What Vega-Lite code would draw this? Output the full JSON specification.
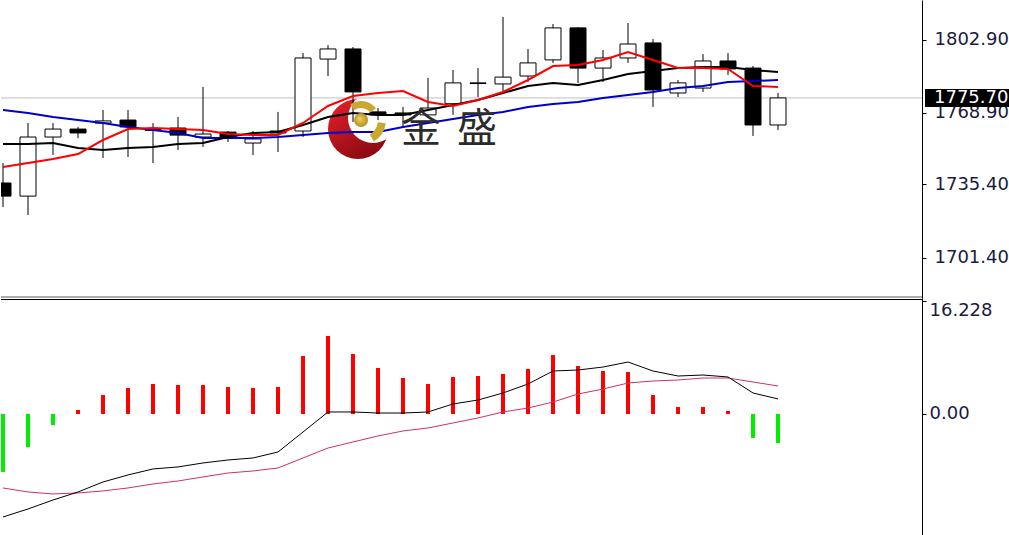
{
  "$schema": "https://vega.github.io/schema/vega-lite/v6.json",
  "padding": 0,
  "background": "white",
  "spacing": 0,
  "config": {"view": {"stroke": null}, "axis": {"labelFont": "DejaVu Sans"}},
  "resolve": {"scale": {"x": "independent", "y": "independent"}},
  "datasets": {
    "candles": [
      {"i": 0, "o": 1736.1, "h": 1745.4, "l": 1724.9, "c": 1730.0},
      {"i": 1, "o": 1730.0, "h": 1764.0, "l": 1721.2, "c": 1757.5},
      {"i": 2, "o": 1757.5, "h": 1764.0, "l": 1749.1, "c": 1761.2},
      {"i": 3, "o": 1761.2, "h": 1762.2, "l": 1757.0, "c": 1759.4},
      {"i": 4, "o": 1764.0, "h": 1770.1, "l": 1747.7, "c": 1765.0},
      {"i": 5, "o": 1765.4, "h": 1770.1, "l": 1748.2, "c": 1762.2},
      {"i": 6, "o": 1761.0, "h": 1764.0, "l": 1745.4, "c": 1760.6},
      {"i": 7, "o": 1761.7, "h": 1766.8, "l": 1751.5, "c": 1758.4},
      {"i": 8, "o": 1757.5, "h": 1780.8, "l": 1752.9, "c": 1758.9},
      {"i": 9, "o": 1759.8, "h": 1760.3, "l": 1755.2, "c": 1757.5},
      {"i": 10, "o": 1754.7, "h": 1760.3, "l": 1749.1, "c": 1756.6},
      {"i": 11, "o": 1760.3, "h": 1769.2, "l": 1750.5, "c": 1759.4},
      {"i": 12, "o": 1760.3, "h": 1796.6, "l": 1757.5, "c": 1794.3},
      {"i": 13, "o": 1793.8, "h": 1800.3, "l": 1785.9, "c": 1798.5},
      {"i": 14, "o": 1798.5, "h": 1799.4, "l": 1764.5, "c": 1778.5},
      {"i": 15, "o": 1769.2, "h": 1771.0, "l": 1765.4, "c": 1767.8},
      {"i": 16, "o": 1768.7, "h": 1771.5, "l": 1761.7, "c": 1767.8},
      {"i": 17, "o": 1767.8, "h": 1785.0, "l": 1766.4, "c": 1771.0},
      {"i": 18, "o": 1773.0, "h": 1788.7, "l": 1767.8, "c": 1782.7},
      {"i": 19, "o": 1782.7, "h": 1789.6, "l": 1776.1, "c": 1782.4},
      {"i": 20, "o": 1782.2, "h": 1813.4, "l": 1778.5, "c": 1785.4},
      {"i": 21, "o": 1785.9, "h": 1798.5, "l": 1783.1, "c": 1792.0},
      {"i": 22, "o": 1793.4, "h": 1810.1, "l": 1792.0, "c": 1808.3},
      {"i": 23, "o": 1808.3, "h": 1808.7, "l": 1782.7, "c": 1789.6},
      {"i": 24, "o": 1789.6, "h": 1798.0, "l": 1783.1, "c": 1794.3},
      {"i": 25, "o": 1794.3, "h": 1810.6, "l": 1792.0, "c": 1800.8},
      {"i": 26, "o": 1801.3, "h": 1803.1, "l": 1771.5, "c": 1779.4},
      {"i": 27, "o": 1778.0, "h": 1784.0, "l": 1776.1, "c": 1782.7},
      {"i": 28, "o": 1780.3, "h": 1796.1, "l": 1778.5, "c": 1792.9},
      {"i": 29, "o": 1792.9, "h": 1796.6, "l": 1786.4, "c": 1789.2},
      {"i": 30, "o": 1789.6, "h": 1790.6, "l": 1758.0, "c": 1763.1},
      {"i": 31, "o": 1763.1, "h": 1778.0, "l": 1760.8, "c": 1775.7}
    ],
    "ma": [
      {"i": 0, "r": 1743.54, "k": 1754.25, "b": 1770.08},
      {"i": 1, "r": 1745.41, "k": 1754.25, "b": 1768.68},
      {"i": 2, "r": 1747.27, "k": 1754.72, "b": 1766.82},
      {"i": 3, "r": 1749.59, "k": 1752.39, "b": 1765.42},
      {"i": 4, "r": 1756.11, "k": 1751.46, "b": 1764.03},
      {"i": 5, "r": 1761.23, "k": 1752.39, "b": 1762.17},
      {"i": 6, "r": 1761.7, "k": 1752.85, "b": 1760.77},
      {"i": 7, "r": 1761.23, "k": 1754.25, "b": 1759.37},
      {"i": 8, "r": 1760.77, "k": 1754.72, "b": 1757.04},
      {"i": 9, "r": 1758.91, "k": 1757.51, "b": 1757.04},
      {"i": 10, "r": 1758.44, "k": 1759.37, "b": 1757.04},
      {"i": 11, "r": 1758.44, "k": 1759.84, "b": 1757.51},
      {"i": 12, "r": 1764.03, "k": 1763.1, "b": 1758.44},
      {"i": 13, "r": 1771.94, "k": 1766.82, "b": 1759.37},
      {"i": 14, "r": 1776.6, "k": 1768.68, "b": 1759.84},
      {"i": 15, "r": 1777.99, "k": 1767.75, "b": 1759.84},
      {"i": 16, "r": 1778.92, "k": 1767.75, "b": 1762.17},
      {"i": 17, "r": 1773.8, "k": 1770.08, "b": 1764.03},
      {"i": 18, "r": 1771.94, "k": 1772.41, "b": 1765.89},
      {"i": 19, "r": 1774.73, "k": 1774.73, "b": 1767.75},
      {"i": 20, "r": 1778.46, "k": 1777.99, "b": 1769.15},
      {"i": 21, "r": 1784.05, "k": 1781.25, "b": 1771.48},
      {"i": 22, "r": 1790.56, "k": 1782.65, "b": 1772.87},
      {"i": 23, "r": 1791.03, "k": 1781.72, "b": 1773.8},
      {"i": 24, "r": 1793.36, "k": 1784.05, "b": 1775.67},
      {"i": 25, "r": 1797.08, "k": 1786.84, "b": 1777.06},
      {"i": 26, "r": 1793.36, "k": 1788.24, "b": 1778.46},
      {"i": 27, "r": 1789.63, "k": 1789.63, "b": 1780.32},
      {"i": 28, "r": 1789.63, "k": 1790.1, "b": 1781.25},
      {"i": 29, "r": 1789.17, "k": 1790.1, "b": 1783.11},
      {"i": 30, "r": 1781.25, "k": 1788.7, "b": 1783.58},
      {"i": 31, "r": 1780.79, "k": 1787.77, "b": 1784.05}
    ],
    "macd": [
      {"i": 0, "h": -8.33, "m": -14.8, "s": -10.63},
      {"i": 1, "h": -4.74, "m": -13.65, "s": -11.21},
      {"i": 2, "h": -1.58, "m": -12.36, "s": -11.49},
      {"i": 3, "h": 0.57, "m": -11.21, "s": -11.35},
      {"i": 4, "h": 2.73, "m": -9.77, "s": -11.06},
      {"i": 5, "h": 3.74, "m": -8.76, "s": -10.63},
      {"i": 6, "h": 4.31, "m": -7.9, "s": -10.06},
      {"i": 7, "h": 4.17, "m": -7.61, "s": -9.63},
      {"i": 8, "h": 4.17, "m": -7.04, "s": -9.05},
      {"i": 9, "h": 3.88, "m": -6.61, "s": -8.48},
      {"i": 10, "h": 3.74, "m": -6.32, "s": -8.19},
      {"i": 11, "h": 3.88, "m": -5.46, "s": -7.76},
      {"i": 12, "h": 8.33, "m": -2.59, "s": -6.32},
      {"i": 13, "h": 11.21, "m": 0.29, "s": -4.89},
      {"i": 14, "h": 8.62, "m": 0.29, "s": -4.02},
      {"i": 15, "h": 6.61, "m": 0.14, "s": -3.16},
      {"i": 16, "h": 5.17, "m": 0.14, "s": -2.44},
      {"i": 17, "h": 4.31, "m": 0.29, "s": -2.01},
      {"i": 18, "h": 5.32, "m": 1.44, "s": -1.29},
      {"i": 19, "h": 5.46, "m": 2.01, "s": -0.57},
      {"i": 20, "h": 5.75, "m": 3.02, "s": 0.29},
      {"i": 21, "h": 6.47, "m": 4.31, "s": 0.86},
      {"i": 22, "h": 8.48, "m": 6.18, "s": 1.72},
      {"i": 23, "h": 6.9, "m": 6.32, "s": 2.87},
      {"i": 24, "h": 6.18, "m": 6.75, "s": 3.59},
      {"i": 25, "h": 6.03, "m": 7.47, "s": 4.45},
      {"i": 26, "h": 2.73, "m": 6.18, "s": 4.74},
      {"i": 27, "h": 1.0, "m": 5.46, "s": 4.89},
      {"i": 28, "h": 1.0, "m": 5.6, "s": 5.17},
      {"i": 29, "h": 0.43, "m": 5.32, "s": 5.17},
      {"i": 30, "h": -3.45, "m": 3.02, "s": 4.6},
      {"i": 31, "h": -4.17, "m": 2.16, "s": 4.02}
    ]
  },
  "vconcat": [
    {
      "width": 921,
      "height": 298,
      "layer": [
        {
          "data": {"values": [{}]},
          "mark": {"type": "point", "shape": "circle", "filled": true, "size": 3600, "opacity": 1, "strokeWidth": 0,
            "fill": {"gradient": "linear", "x1": 0, "y1": 0, "x2": 0.6, "y2": 1, "stops": [{"offset": 0, "color": "#e8222c"}, {"offset": 1, "color": "#8c0a12"}]}},
          "encoding": {
            "x": {"datum": 14.2, "type": "quantitative", "scale": {"domain": [-0.08, 36.76], "nice": false, "zero": false, "padding": 0}, "axis": null},
            "y": {"datum": 1761.23, "type": "quantitative", "scale": {"domain": [1682.56, 1821.29], "nice": false, "zero": false, "padding": 0},
              "axis": {"orient": "right", "title": null, "values": [1802.9, 1768.9, 1735.4, 1701.4], "format": ".2f", "grid": false,
                "domainColor": "#000000", "domainWidth": 1, "tickColor": "#000000", "tickSize": 4, "labelPadding": 8,
                "labelFontSize": 18, "labelColor": "#1a1a40", "labelBaseline": "middle"}}
          }
        },
        {
          "data": {"values": [{}]},
          "mark": {"type": "point", "shape": "circle", "filled": true, "size": 2500, "opacity": 1, "strokeWidth": 0, "fill": "#ffffff"},
          "encoding": {"x": {"datum": 14.8, "type": "quantitative"}, "y": {"datum": 1766.35, "type": "quantitative"}}
        },
        {
          "data": {"values": [{}]},
          "mark": {"type": "rule", "color": "#c0c0c0", "strokeWidth": 1},
          "encoding": {"y": {"datum": 1775.7, "type": "quantitative"}}
        },
        {
          "data": {"name": "candles"},
          "mark": {"type": "rule", "color": "#000000", "strokeWidth": 1, "clip": true},
          "encoding": {"x": {"field": "i", "type": "quantitative"}, "y": {"field": "l", "type": "quantitative"}, "y2": {"field": "h"}}
        },
        {
          "data": {"name": "candles"},
          "mark": {"type": "bar", "width": 16, "stroke": "#000000", "strokeWidth": 1, "clip": true},
          "encoding": {
            "x": {"field": "i", "type": "quantitative"},
            "y": {"field": "o", "type": "quantitative"},
            "y2": {"field": "c"},
            "fill": {"condition": {"test": "datum.c >= datum.o", "value": "#ffffff"}, "value": "#000000"}
          }
        },
        {
          "data": {"name": "ma"},
          "mark": {"type": "line", "color": "#0000cc", "strokeWidth": 2, "clip": true},
          "encoding": {"x": {"field": "i", "type": "quantitative"}, "y": {"field": "b", "type": "quantitative"}}
        },
        {
          "data": {"name": "ma"},
          "mark": {"type": "line", "color": "#000000", "strokeWidth": 2, "clip": true},
          "encoding": {"x": {"field": "i", "type": "quantitative"}, "y": {"field": "k", "type": "quantitative"}}
        },
        {
          "data": {"name": "ma"},
          "mark": {"type": "line", "color": "#ff0000", "strokeWidth": 2, "clip": true},
          "encoding": {"x": {"field": "i", "type": "quantitative"}, "y": {"field": "r", "type": "quantitative"}}
        },
        {
          "data": {"values": [{}]},
          "mark": {"type": "point", "shape": "circle", "filled": true, "size": 196, "opacity": 1, "strokeWidth": 0,
            "fill": {"gradient": "radial", "x1": 0.4, "y1": 0.4, "r1": 0, "x2": 0.5, "y2": 0.5, "r2": 0.6, "stops": [{"offset": 0, "color": "#f0d460"}, {"offset": 1, "color": "#a8861a"}]}},
          "encoding": {"x": {"datum": 14.32, "type": "quantitative"}, "y": {"datum": 1765.42, "type": "quantitative"}}
        },
        {
          "data": {"values": [{}]},
          "mark": {"type": "arc", "theta": -0.6, "theta2": 0.9, "radius": 19, "radius2": 12, "fill": "#c9a832"},
          "encoding": {"x": {"datum": 14.32, "type": "quantitative"}, "y": {"datum": 1765.42, "type": "quantitative"}}
        },
        {
          "data": {"values": [{}]},
          "mark": {"type": "arc", "theta": 1.7, "theta2": 2.6, "radius": 25, "radius2": 17, "fill": "#c9a832"},
          "encoding": {"x": {"datum": 14.32, "type": "quantitative"}, "y": {"datum": 1765.42, "type": "quantitative"}}
        },
        {
          "data": {"values": [{"t": "金", "i": 16.72}, {"t": "盛", "i": 18.96}]},
          "mark": {"type": "text", "font": "Noto Sans CJK SC", "fontSize": 40, "color": "#2b2b2b", "align": "center", "baseline": "middle"},
          "encoding": {"x": {"field": "i", "type": "quantitative"}, "y": {"datum": 1760.77, "type": "quantitative"}, "text": {"field": "t"}}
        },
        {
          "data": {"values": [{}]},
          "mark": {"type": "rect", "color": "#000000"},
          "encoding": {
            "x": {"datum": 36.88, "type": "quantitative"}, "x2": {"datum": 40.28},
            "y": {"datum": 1779.86, "type": "quantitative"}, "y2": {"datum": 1771.48}
          }
        },
        {
          "data": {"values": [{}]},
          "mark": {"type": "text", "font": "DejaVu Sans", "fontSize": 18, "color": "#ffffff", "align": "left", "baseline": "middle", "text": "1775.70"},
          "encoding": {"x": {"datum": 37.24, "type": "quantitative"}, "y": {"datum": 1775.7, "type": "quantitative"}}
        },
        {
          "data": {"values": [{}]},
          "mark": {"type": "rule", "color": "#909090", "strokeWidth": 1.5},
          "encoding": {"y": {"datum": 1683.02, "type": "quantitative"}}
        }
      ]
    },
    {
      "width": 921,
      "height": 237,
      "layer": [
        {
          "data": {"name": "macd"},
          "mark": {"type": "bar", "width": 4, "clip": true},
          "encoding": {
            "x": {"field": "i", "type": "quantitative", "scale": {"domain": [-0.08, 36.76], "nice": false, "zero": false, "padding": 0}, "axis": null},
            "y": {"field": "h", "type": "quantitative", "scale": {"domain": [-17.39, 16.67], "nice": false, "zero": false, "padding": 0},
              "axis": {"orient": "right", "title": null, "values": [16.228, 0], "labelExpr": "datum.value == 0 ? '0.00' : '16.228'", "grid": false,
                "domainColor": "#000000", "domainWidth": 1, "tickColor": "#000000", "tickSize": 4, "labelPadding": 3,
                "labelFontSize": 18, "labelColor": "#1a1a40",
                "labelBaseline": {"condition": {"test": "datum.value > 1", "value": "top"}, "value": "middle"}}},
            "y2": {"datum": 0},
            "color": {"condition": {"test": "datum.h >= 0", "value": "#ff0000"}, "value": "#00ee00"}
          }
        },
        {
          "data": {"name": "macd"},
          "mark": {"type": "line", "color": "#cc3366", "strokeWidth": 1, "clip": true},
          "encoding": {"x": {"field": "i", "type": "quantitative"}, "y": {"field": "s", "type": "quantitative"}}
        },
        {
          "data": {"name": "macd"},
          "mark": {"type": "line", "color": "#000000", "strokeWidth": 1, "clip": true},
          "encoding": {"x": {"field": "i", "type": "quantitative"}, "y": {"field": "m", "type": "quantitative"}}
        },
        {
          "data": {"values": [{}]},
          "mark": {"type": "rule", "color": "#000000", "strokeWidth": 1},
          "encoding": {"y": {"datum": 16.45, "type": "quantitative"}}
        }
      ]
    }
  ]
}
